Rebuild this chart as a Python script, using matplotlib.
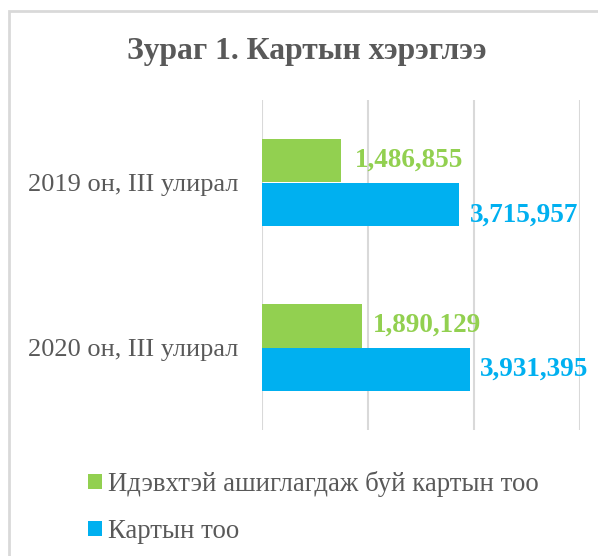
import matplotlib
matplotlib.use("Agg")
import matplotlib.pyplot as plt
from matplotlib.patches import Rectangle
import numpy as np

categories = ["2019 он, III улирал", "2020 он, III улирал"]
active_cards = [1486855, 1890129]
total_cards = [3715957, 3931395]
series_names = ["Идэвхтэй ашиглагдаж буй картын тоо", "Картын тоо"]
colors = ["#92D050", "#00B0F0"]
title = "Зураг 1. Картын хэрэглээ"

plt.rcParams['font.family'] = ['Liberation Serif', 'DejaVu Serif']

W, H = 598, 556
fig = plt.figure(figsize=(W/100, H/100), dpi=100)
# chart frame
fig.patches.append(Rectangle((8.5/W, -0.1), 1.2, 1 - 10.5/H + 0.1, transform=fig.transFigure,
                             fill=False, edgecolor="#D9D9D9", linewidth=2))

ax = fig.add_axes([262/W, 1 - 430/H, (580-262)/W, (430-100)/H])
y = np.arange(len(categories))
bh = 0.265
b1 = ax.barh(y - bh/2, active_cards, height=bh, color=colors[0], label=series_names[0])
b2 = ax.barh(y + bh/2, total_cards, height=bh, color=colors[1], label=series_names[1])
ax.set_xlim(0, 6000000)
ax.set_ylim(len(categories) - 0.5, -0.5)
ax.set_xticks([0, 2000000, 4000000, 6000000])
ax.xaxis.grid(True, color="#D9D9D9", linewidth=1.5)
ax.set_axisbelow(True)
ax.tick_params(axis='x', length=0, labelbottom=False)
ax.tick_params(axis='y', length=0, pad=17)
ax.set_yticks(y)
ax.set_yticklabels(categories, fontsize=19, color="#595959")
for s in ax.spines.values():
    s.set_visible(False)

label_dy = [[0, 0], [-8, 0]]
label_dx = [[10, 8], [8, 7]]
for i in range(len(categories)):
    ax.annotate(f"{active_cards[i]:,}", (active_cards[i], y[i] - bh/2),
                xytext=(label_dx[0][i], label_dy[0][i]),
                textcoords="offset points", va="center", ha="left", fontsize=19.5,
                fontweight="bold", color=colors[0])
    ax.annotate(f"{total_cards[i]:,}", (total_cards[i], y[i] + bh/2),
                xytext=(label_dx[1][i], label_dy[1][i]),
                textcoords="offset points", va="center", ha="left", fontsize=19.5,
                fontweight="bold", color=colors[1])

fig.text(307/W, 1 - 59/H, title, ha="center", va="baseline", fontsize=22.8,
         fontweight="bold", color="#595959")

leg = fig.legend(handles=[b1, b2], labels=series_names, loc="upper left",
                 bbox_to_anchor=(80/W, 1 - 463/H), frameon=False, fontsize=19.3,
                 handlelength=0.52, handleheight=0.52, handletextpad=0.22, labelspacing=0.82,
                 labelcolor="#595959", borderaxespad=0, borderpad=0.3)

fig.savefig("out.png", dpi=100)
